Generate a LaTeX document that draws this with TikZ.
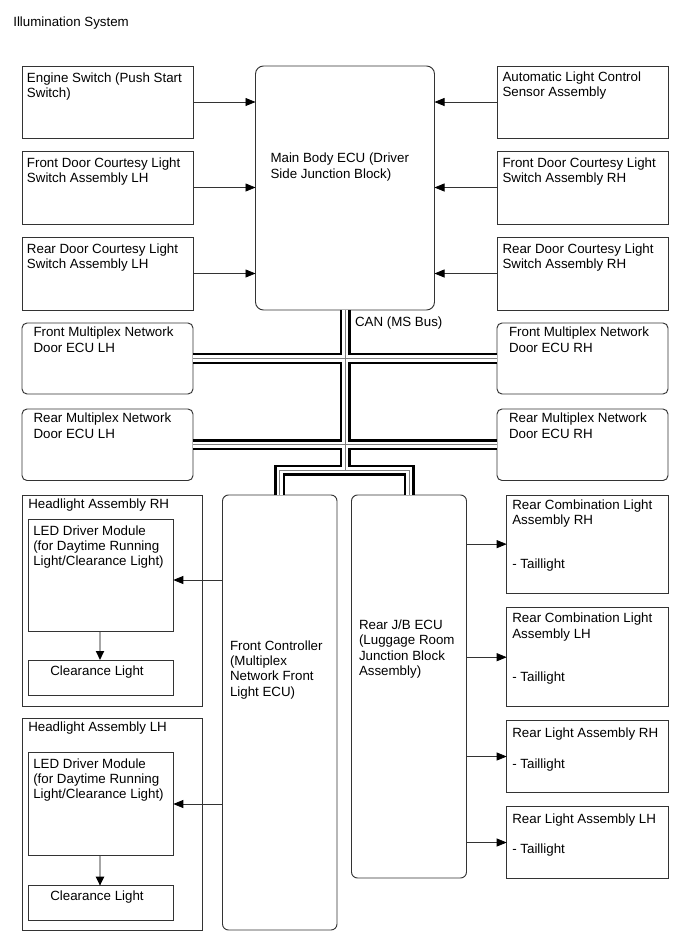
\documentclass[tikz,border=0pt]{standalone}
\usepackage{fontspec}
\setmainfont{Liberation Sans}
\usetikzlibrary{arrows.meta,calc}
\newcommand\toplines[1]{\begin{tabular}[t]{@{}l@{}}#1\end{tabular}}
\tikzset{
  basic/.style={inner sep=0pt, outer sep=0pt},
  sqbox/.style={basic, draw=black!80, line width=0.95pt, fill=white, anchor=north west},
  rbox/.style={sqbox, rounded corners=5pt},
  lbl/.style={basic, font=\fontsize{13.33}{15.4}\selectfont, anchor=base west},
  conn/.style={line width=0.75pt, draw=black!80, -{Triangle[length=10pt,width=8pt,color=black]}},
  dconn/.style={line width=1.8pt, draw=black!35, -{Triangle[length=9pt,width=8pt,color=black]}},
  busA/.style={line width=11pt, draw=black},
  busB/.style={line width=6.5pt, draw=white},
  busC/.style={line width=0.9pt, draw=black!50},
}
\begin{document}
\begin{tikzpicture}[x=1pt,y=-1pt]
\fill[white] (0,0) rectangle (689,951);
\useasboundingbox (0,0) rectangle (689,951);

\node[lbl] (title) at (13.3,26.7) {Illumination System};

% top left column
\node[sqbox, minimum width=171pt, minimum height=72pt] (es) at (22,66) {};
\node[sqbox, minimum width=171pt, minimum height=73pt] (fdl) at (22,151) {};
\node[sqbox, minimum width=171pt, minimum height=73pt] (rdl) at (22,237) {};
% top right column
\node[sqbox, minimum width=171pt, minimum height=72pt] (als) at (497,66) {};
\node[sqbox, minimum width=171pt, minimum height=73pt] (fdr) at (497,151) {};
\node[sqbox, minimum width=171pt, minimum height=73pt] (rdr) at (497,237) {};
% main body ECU
\node[rbox, rounded corners=8pt, minimum width=179pt, minimum height=244pt] (mb) at (255.5,66) {};
% multiplex door ECUs
\node[rbox, minimum width=171pt, minimum height=71pt] (fml) at (22,323) {};
\node[rbox, minimum width=171pt, minimum height=71pt] (fmr) at (497,323) {};
\node[rbox, minimum width=171pt, minimum height=71.5pt] (rml) at (22,409) {};
\node[rbox, minimum width=171pt, minimum height=71.5pt] (rmr) at (497,409) {};
% headlights
\node[sqbox, minimum width=180pt, minimum height=211pt] (hr) at (22,495) {};
\node[sqbox, minimum width=145pt, minimum height=112.4pt] (ledR) at (28.3,519.3) {};
\node[sqbox, minimum width=145pt, minimum height=35pt] (clR) at (28.3,660) {};
\node[sqbox, minimum width=180pt, minimum height=211.7pt] (hl) at (22,718.3) {};
\node[sqbox, minimum width=145pt, minimum height=103.4pt] (ledL) at (28.3,752.3) {};
\node[sqbox, minimum width=145pt, minimum height=34.3pt] (clL) at (28.3,885.7) {};
% controllers
\node[rbox, rounded corners=6pt, minimum width=114.5pt, minimum height=435pt] (fc) at (222.5,495) {};
\node[rbox, rounded corners=6pt, minimum width=115pt, minimum height=383pt] (rj) at (351.5,495) {};
% rear lights
\node[sqbox, minimum width=161.6pt, minimum height=98.3pt] (rcr) at (506.7,495) {};
\node[sqbox, minimum width=161.6pt, minimum height=99pt] (rcl) at (506.7,607.7) {};
\node[sqbox, minimum width=161.6pt, minimum height=71.6pt] (rlr) at (506.7,720.7) {};
\node[sqbox, minimum width=161.6pt, minimum height=71.6pt] (rll) at (506.7,806.7) {};

% labels
\node[lbl] (est) at (27,82) {\toplines{Engine Switch (Push Start\\Switch)}};
\node[lbl] (fdlt) at (27,167) {\toplines{Front Door Courtesy Light\\Switch Assembly LH}};
\node[lbl] (rdlt) at (27,253) {\toplines{Rear Door Courtesy Light\\Switch Assembly LH}};
\node[lbl] (alst) at (502.5,81) {\toplines{Automatic Light Control\\Sensor Assembly}};
\node[lbl] (fdrt) at (502.5,167) {\toplines{Front Door Courtesy Light\\Switch Assembly RH}};
\node[lbl] (rdrt) at (502.5,253) {\toplines{Rear Door Courtesy Light\\Switch Assembly RH}};
\node[lbl] (mbt) at (270.5,162.7) {\toplines{Main Body ECU (Driver\\Side Junction Block)}};
\node[lbl] (fmlt) at (33.5,336.7) {\toplines{Front Multiplex Network\\Door ECU LH}};
\node[lbl] (fmrt) at (509,336.7) {\toplines{Front Multiplex Network\\Door ECU RH}};
\node[lbl] (rmlt) at (33.5,422.7) {\toplines{Rear Multiplex Network\\Door ECU LH}};
\node[lbl] (rmrt) at (509,422.7) {\toplines{Rear Multiplex Network\\Door ECU RH}};
\node[lbl] (can) at (355,326.7) {CAN (MS Bus)};
\node[lbl] (hrt) at (28.3,508.3) {Headlight Assembly RH};
\node[lbl] (ledRt) at (33.3,535) {\toplines{LED Driver Module\\(for Daytime Running\\Light/Clearance Light)}};
\node[lbl, anchor=base] (clRt) at (97,675.7) {Clearance Light};
\node[lbl] (hlt) at (28.3,731.6) {Headlight Assembly LH};
\node[lbl] (ledLt) at (33.3,768) {\toplines{LED Driver Module\\(for Daytime Running\\Light/Clearance Light)}};
\node[lbl, anchor=base] (clLt) at (97,900.5) {Clearance Light};
\node[lbl] (fct) at (230,650) {\toplines{Front Controller\\(Multiplex\\Network Front\\Light ECU)}};
\node[lbl] (rjt) at (359,629.3) {\toplines{Rear J/B ECU\\(Luggage Room\\Junction Block\\Assembly)}};
\node[lbl] (rcrt) at (512.3,509.3) {\toplines{Rear Combination Light\\Assembly RH\\[28pt]- Taillight}};
\node[lbl] (rclt) at (512.3,622.7) {\toplines{Rear Combination Light\\Assembly LH\\[28pt]- Taillight}};
\node[lbl] (rlrt) at (512.3,737.7) {\toplines{Rear Light Assembly RH\\[15pt]- Taillight}};
\node[lbl] (rllt) at (512.3,823.3) {\toplines{Rear Light Assembly LH\\[15pt]- Taillight}};

% arrows into main body ECU
\draw[conn] (es.east) -- (es.east -| mb.west);
\draw[conn] (fdl.east) -- (fdl.east -| mb.west);
\draw[conn] (rdl.east) -- (rdl.east -| mb.west);
\draw[conn] (als.west) -- (als.west -| mb.east);
\draw[conn] (fdr.west) -- (fdr.west -| mb.east);
\draw[conn] (rdr.west) -- (rdr.west -| mb.east);
% front controller to LED modules
\draw[conn] (fc.west |- 0,580) -- (ledR.east |- 0,580);
\draw[conn] (fc.west |- 0,804) -- (ledL.east |- 0,804);
% LED modules to clearance lights
\draw[dconn] (ledR.south -| 100,0) -- (clR.north -| 100,0);
\draw[dconn] (ledL.south -| 100,0) -- (clL.north -| 100,0);
% rear J/B to rear lights
\draw[conn] (rcr.west -| rj.east) -- (rcr.west);
\draw[conn] (rcl.west -| rj.east) -- (rcl.west);
\draw[conn] (rlr.west -| rj.east) -- (rlr.west);
\draw[conn] (rll.west -| rj.east) -- (rll.west);

% CAN bus
\coordinate (split) at (345,470);
\foreach \st in {busA,busB,busC}{
  \draw[\st] (mb.south) -- (split);
  \draw[\st] (fml.east) -- (fmr.west);
  \draw[\st] (rml.east) -- (rmr.west);
  \draw[\st] (fc.north) -- (fc.north |- split) -- (rj.north |- split) -- (rj.north);
}
\end{tikzpicture}
\end{document}
